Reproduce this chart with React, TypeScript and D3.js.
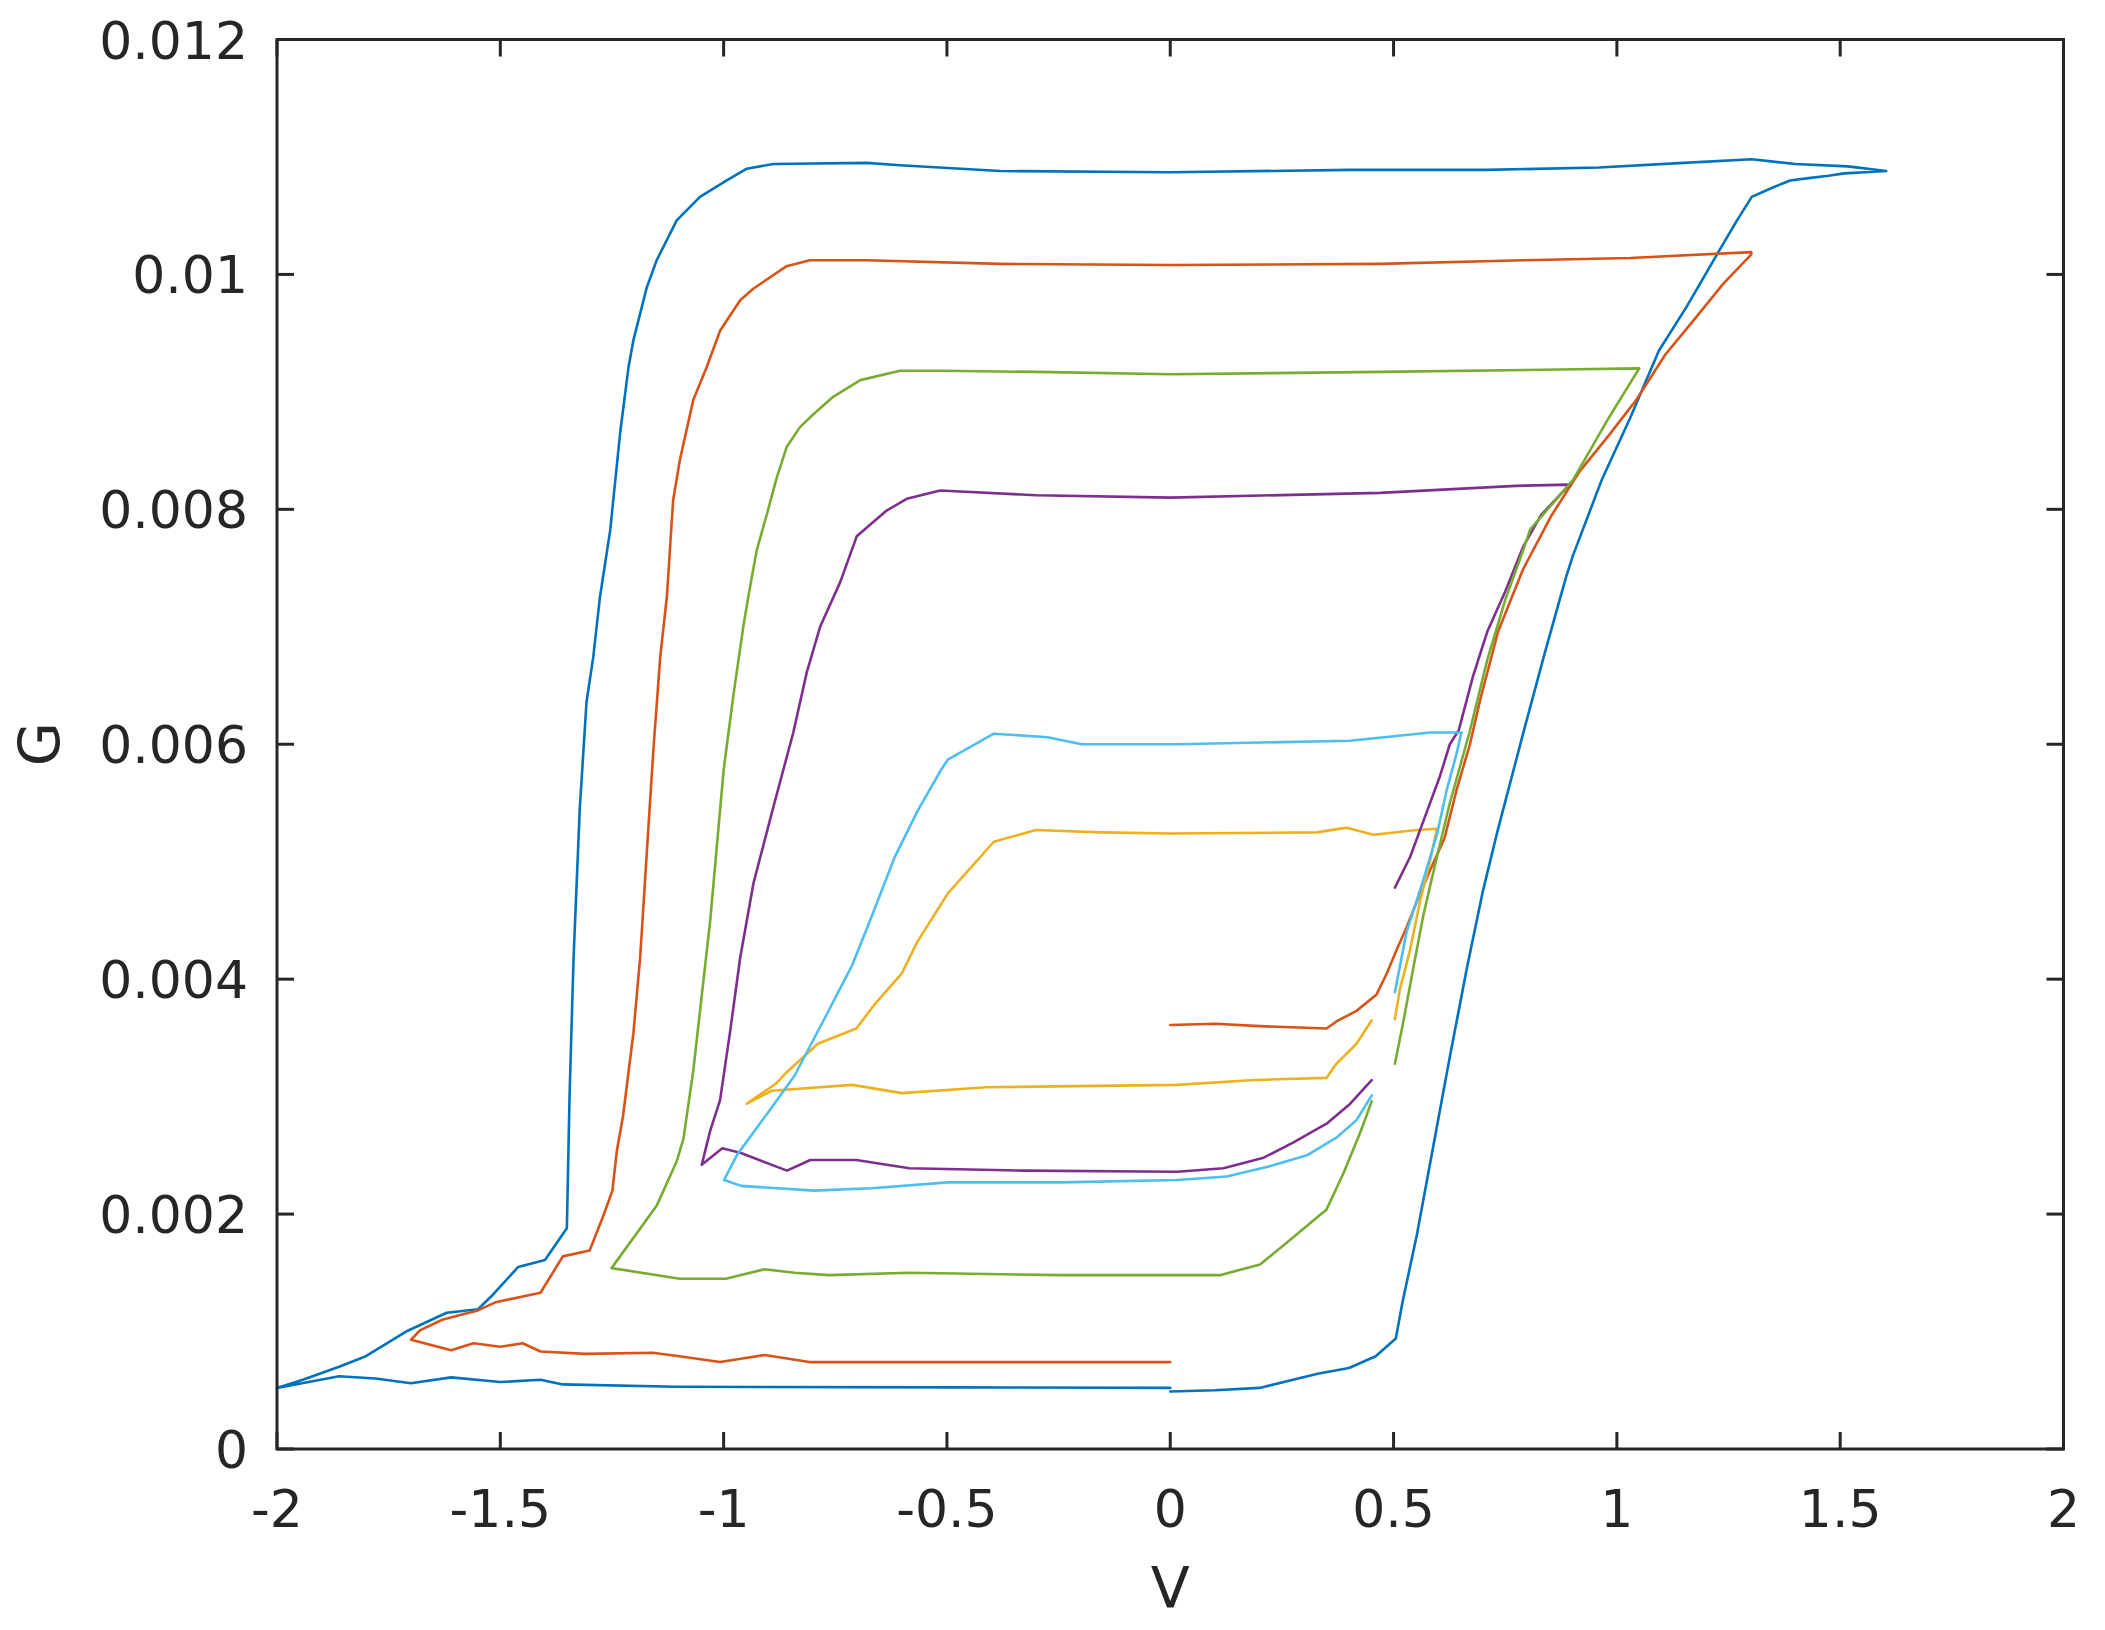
import React from 'react'
import * as d3 from 'd3'

// G–V hysteresis loops, one array of [V, G] per sweep
const loopBlue: [number, number][] = [
  [0, 0.00049], [0.1, 0.0005], [0.2, 0.00052], [0.33, 0.00064], [0.4, 0.00069], [0.46, 0.00079],
  [0.505, 0.00094], [0.52, 0.00125], [0.552, 0.00182], [0.589, 0.00258], [0.626, 0.00334],
  [0.664, 0.00409], [0.7, 0.00475], [0.732, 0.00525], [0.79, 0.00609], [0.838, 0.00677],
  [0.886, 0.00742], [0.902, 0.00761], [0.966, 0.00825], [1.03, 0.00878], [1.094, 0.00935],
  [1.157, 0.00973], [1.221, 0.01015], [1.269, 0.01046], [1.302, 0.01066], [1.349, 0.01074],
  [1.388, 0.0108], [1.429, 0.01082], [1.474, 0.01084], [1.509, 0.01086], [1.603, 0.01088],
  [1.517, 0.01092], [1.4, 0.01094], [1.302, 0.01098], [1.15, 0.01095], [0.96, 0.01091],
  [0.709, 0.01089], [0.403, 0.01089], [0, 0.01087], [-0.381, 0.01088], [-0.605, 0.01093],
  [-0.68, 0.01095], [-0.889, 0.01094], [-0.948, 0.0109], [-0.993, 0.0108], [-1.053, 0.01066],
  [-1.105, 0.01046], [-1.15, 0.01012], [-1.172, 0.00989], [-1.202, 0.00944], [-1.213, 0.00921],
  [-1.232, 0.00864], [-1.254, 0.00782], [-1.277, 0.00725], [-1.292, 0.00674], [-1.307, 0.00636],
  [-1.322, 0.00546], [-1.336, 0.00418], [-1.345, 0.003], [-1.351, 0.00188], [-1.4, 0.00161],
  [-1.46, 0.00155], [-1.52, 0.0013], [-1.55, 0.00119], [-1.62, 0.00116], [-1.711, 0.001],
  [-1.801, 0.00079], [-1.861, 0.0007], [-1.942, 0.00059], [-2, 0.00052], [-1.861, 0.00062],
  [-1.78, 0.0006], [-1.7, 0.00056], [-1.61, 0.00061], [-1.5, 0.00057], [-1.41, 0.00059],
  [-1.36, 0.00055], [-1.108, 0.00053], [-0.488, 0.000525], [0, 0.00052],
]

const loopOrange: [number, number][] = [
  [0, 0.00361], [0.1, 0.00362], [0.2, 0.0036], [0.35, 0.00358], [0.372, 0.00364], [0.417, 0.00373],
  [0.462, 0.00387], [0.485, 0.00405], [0.507, 0.00425], [0.529, 0.00444], [0.552, 0.00466],
  [0.582, 0.00493], [0.614, 0.0052], [0.641, 0.00561], [0.671, 0.006], [0.694, 0.00638],
  [0.734, 0.00696], [0.79, 0.00749], [0.854, 0.00795], [0.918, 0.00833], [0.982, 0.00863],
  [1.045, 0.00894], [1.109, 0.00932], [1.174, 0.00962], [1.238, 0.00992], [1.301, 0.01017],
  [1.301, 0.01019], [1.03, 0.01014], [0.79, 0.01012], [0.47, 0.01009], [0, 0.01008],
  [-0.381, 0.01009], [-0.68, 0.01012], [-0.807, 0.01012], [-0.859, 0.01007], [-0.933, 0.00988],
  [-0.963, 0.00978], [-1.008, 0.00952], [-1.038, 0.00921], [-1.068, 0.00893], [-1.098, 0.00842],
  [-1.113, 0.00808], [-1.127, 0.00726], [-1.142, 0.00674], [-1.157, 0.00597], [-1.172, 0.00508],
  [-1.187, 0.00418], [-1.202, 0.00354], [-1.225, 0.00284], [-1.239, 0.00254], [-1.249, 0.0022],
  [-1.27, 0.00198], [-1.3, 0.00169], [-1.36, 0.00164], [-1.41, 0.00133], [-1.51, 0.00125],
  [-1.55, 0.00118], [-1.59, 0.00114], [-1.63, 0.0011], [-1.68, 0.00101], [-1.7, 0.00093],
  [-1.61, 0.00084], [-1.56, 0.0009], [-1.5, 0.00087], [-1.45, 0.0009], [-1.41, 0.00083],
  [-1.31, 0.00081], [-1.159, 0.00082], [-1.099, 0.00079], [-1.008, 0.00074], [-0.958, 0.00077],
  [-0.908, 0.0008], [-0.808, 0.00074], [-0.488, 0.00074], [0, 0.00074],
]

const loopYellow: [number, number][] = [
  [0.503, 0.00366], [0.514, 0.00391], [0.537, 0.00425], [0.559, 0.00466], [0.582, 0.00501],
  [0.597, 0.00528], [0.552, 0.00527], [0.455, 0.00523], [0.395, 0.00529], [0.328, 0.00525],
  [0, 0.00524], [-0.155, 0.00525], [-0.301, 0.00527], [-0.395, 0.00517], [-0.498, 0.00473],
  [-0.566, 0.00432], [-0.601, 0.00405], [-0.661, 0.00379], [-0.703, 0.00358], [-0.789, 0.00345],
  [-0.858, 0.00321], [-0.883, 0.00311], [-0.948, 0.00294], [-0.892, 0.00305], [-0.712, 0.0031],
  [-0.601, 0.00303], [-0.412, 0.00308], [0.016, 0.0031], [0.179, 0.00314], [0.35, 0.00316],
  [0.372, 0.00328], [0.417, 0.00345], [0.451, 0.00365],
]

const loopPurple: [number, number][] = [
  [0.503, 0.00478], [0.537, 0.00504], [0.574, 0.00542], [0.604, 0.00573], [0.626, 0.006],
  [0.646, 0.00612], [0.678, 0.00658], [0.71, 0.00696], [0.75, 0.0073], [0.79, 0.00768],
  [0.83, 0.00795], [0.894, 0.00821], [0.774, 0.0082], [0.47, 0.00814], [0, 0.0081],
  [-0.3, 0.00812], [-0.515, 0.00816], [-0.59, 0.00809], [-0.635, 0.00799], [-0.702, 0.00777],
  [-0.739, 0.00738], [-0.784, 0.007], [-0.814, 0.00661], [-0.844, 0.0061], [-0.889, 0.00546],
  [-0.933, 0.00482], [-0.963, 0.00418], [-0.986, 0.00354], [-1.008, 0.00297], [-1.03, 0.00271],
  [-1.049, 0.00242], [-1.003, 0.00256], [-0.961, 0.00252], [-0.858, 0.00237], [-0.806, 0.00246],
  [-0.703, 0.00246], [-0.584, 0.00239], [-0.326, 0.00237], [0.016, 0.00236], [0.119, 0.00239],
  [0.209, 0.00248], [0.276, 0.00261], [0.35, 0.00277], [0.403, 0.00294], [0.451, 0.00314],
]

const loopGreen: [number, number][] = [
  [0.503, 0.00328], [0.522, 0.00364], [0.544, 0.00409], [0.567, 0.00455], [0.597, 0.00504],
  [0.626, 0.0055], [0.67, 0.0061], [0.71, 0.00672], [0.75, 0.00723], [0.79, 0.00765],
  [0.806, 0.00783], [0.902, 0.00825], [0.982, 0.00878], [1.05, 0.0092], [0.87, 0.00919],
  [0.47, 0.00917], [0, 0.00915], [-0.3, 0.00917], [-0.515, 0.00918], [-0.605, 0.00918],
  [-0.694, 0.0091], [-0.754, 0.00896], [-0.799, 0.00881], [-0.829, 0.0087], [-0.859, 0.00853],
  [-0.881, 0.00827], [-0.903, 0.00796], [-0.926, 0.00765], [-0.945, 0.00725], [-0.956, 0.007],
  [-0.978, 0.00642], [-1.0, 0.00578], [-1.015, 0.00514], [-1.03, 0.0045], [-1.049, 0.00386],
  [-1.068, 0.00322], [-1.09, 0.00264], [-1.105, 0.00245], [-1.15, 0.00207], [-1.251, 0.00154],
  [-1.098, 0.00145], [-0.995, 0.00145], [-0.909, 0.00153], [-0.841, 0.0015], [-0.765, 0.00148],
  [-0.584, 0.0015], [-0.241, 0.00148], [0.111, 0.00148], [0.201, 0.00157], [0.268, 0.00178],
  [0.35, 0.00204], [0.388, 0.00235], [0.425, 0.00269], [0.451, 0.00296],
]

const loopLightBlue: [number, number][] = [
  [0.503, 0.00389], [0.529, 0.0044], [0.567, 0.00485], [0.597, 0.00523], [0.619, 0.00561],
  [0.641, 0.00592], [0.652, 0.0061], [0.582, 0.0061], [0.403, 0.00603], [0.016, 0.006],
  [-0.198, 0.006], [-0.275, 0.00606], [-0.395, 0.00609], [-0.498, 0.00587], [-0.515, 0.00577],
  [-0.566, 0.00543], [-0.618, 0.00503], [-0.669, 0.00453], [-0.712, 0.00412], [-0.772, 0.00368],
  [-0.841, 0.00318], [-0.892, 0.00291], [-0.969, 0.00251], [-0.999, 0.00229], [-0.961, 0.00224],
  [-0.798, 0.0022], [-0.669, 0.00222], [-0.498, 0.00227], [-0.241, 0.00227], [0.016, 0.00229],
  [0.126, 0.00232], [0.216, 0.0024], [0.306, 0.0025], [0.372, 0.00265], [0.417, 0.0028],
  [0.451, 0.00301],
]

const series = [
  { name: 'blue', color: '#0072BD', pts: loopBlue },
  { name: 'orange', color: '#D95319', pts: loopOrange },
  { name: 'yellow', color: '#EDB120', pts: loopYellow },
  { name: 'purple', color: '#7E2F8E', pts: loopPurple },
  { name: 'green', color: '#77AC30', pts: loopGreen },
  { name: 'lightblue', color: '#4DBEEE', pts: loopLightBlue },
]

const xTicks = [-2, -1.5, -1, -0.5, 0, 0.5, 1, 1.5, 2]
const yTicks = [0, 0.002, 0.004, 0.006, 0.008, 0.01, 0.012]

const W = 2105
const H = 1630
const left = 277, right = 2063.5, top = 39.5, bottom = 1449
const ink = '#262626'
const font = 'DejaVu Sans, sans-serif'
const tickLen = 17

export default function App() {
  const x = d3.scaleLinear().domain([-2, 2]).range([left, right])
  const y = d3.scaleLinear().domain([0, 0.012]).range([bottom, top])
  const line = d3.line<[number, number]>().x(d => x(d[0])).y(d => y(d[1]))

  return (
    <svg width={W} height={H} style={{ position: 'absolute', left: 0, top: 0, display: 'block', background: '#fff' }}>
      <rect x={0} y={0} width={W} height={H} fill="#fff" />
      <g fill="none" strokeWidth={2.6} strokeLinejoin="round" strokeLinecap="round">
        {series.map(s => (
          <path key={s.name} d={line(s.pts) || ''} stroke={s.color} />
        ))}
      </g>

      {/* box + inward ticks on all four sides */}
      <g stroke={ink} strokeWidth={3} fill="none">
        <rect x={left} y={top} width={right - left} height={bottom - top} />
        {xTicks.map(t => (
          <g key={'xt' + t}>
            <line x1={x(t)} x2={x(t)} y1={bottom} y2={bottom - tickLen} />
            <line x1={x(t)} x2={x(t)} y1={top} y2={top + tickLen} />
          </g>
        ))}
        {yTicks.map(t => (
          <g key={'yt' + t}>
            <line x1={left} x2={left + tickLen} y1={y(t)} y2={y(t)} />
            <line x1={right} x2={right - tickLen} y1={y(t)} y2={y(t)} />
          </g>
        ))}
      </g>

      <g fill={ink} fontFamily={font} fontSize={52}>
        {xTicks.map(t => (
          <text key={'xl' + t} x={x(t)} y={1527} textAnchor="middle">{String(t)}</text>
        ))}
        {yTicks.map(t => (
          <text key={'yl' + t} x={248} y={y(t) + 19} textAnchor="end">{String(t)}</text>
        ))}
      </g>

      <text x={(left + right) / 2} y={1608} textAnchor="middle" fontFamily={font} fontSize={57} fill={ink}>V</text>
      <text transform={`translate(60,${(top + bottom) / 2}) rotate(-90)`} textAnchor="middle" fontFamily={font} fontSize={57} fill={ink}>G</text>
    </svg>
  )
}
